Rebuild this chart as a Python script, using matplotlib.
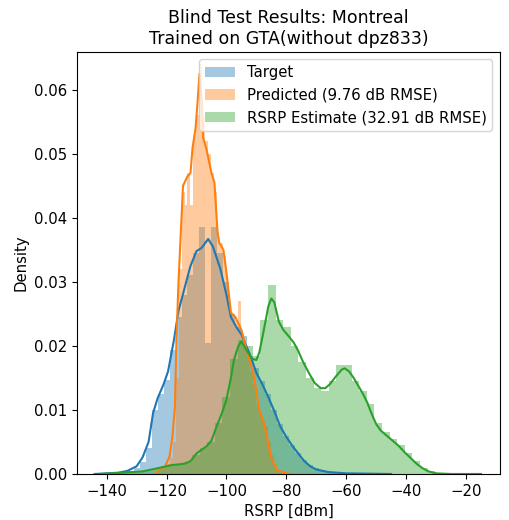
import numpy as np
import matplotlib
matplotlib.use("Agg")
import matplotlib.pyplot as plt

# histogram ranges (dBm) and bar densities
target_range = (-143, -45)
target_hist = [0.0000, 0.0001, 0.0001, 0.0002, 0.0002, 0.0004, 0.0009, 0.0018, 0.0040, 0.0100,
               0.0125, 0.0147, 0.0194, 0.0245, 0.0280, 0.0310, 0.0345, 0.0386, 0.0204, 0.0386,
               0.0345, 0.0300, 0.0250, 0.0230, 0.0215, 0.0185, 0.0165, 0.0145, 0.0125, 0.0100,
               0.0078, 0.0060, 0.0045, 0.0032, 0.0022, 0.0014, 0.0009, 0.0005, 0.0003, 0.0002,
               0.0001, 0.0001, 0.0001, 0.0000, 0.0000, 0.0000, 0.0000, 0.0001, 0.0000]

pred_range = (-123, -78)
pred_hist = [0.0005, 0.0008, 0.0010, 0.0015, 0.0025, 0.0050, 0.0150, 0.0320, 0.0440, 0.0420,
             0.0470, 0.0420, 0.0530, 0.0560, 0.0640, 0.0560, 0.0520, 0.0500, 0.0470, 0.0440,
             0.0370, 0.0360, 0.0340, 0.0300, 0.0255, 0.0250, 0.0240, 0.0270, 0.0220, 0.0200,
             0.0185, 0.0160, 0.0140, 0.0110, 0.0095, 0.0085, 0.0075, 0.0050, 0.0030, 0.0015,
             0.0008, 0.0004, 0.0002, 0.0001, 0.0001]

est_range = (-142, -15)
est_hist = [0.0001, 0.0001, 0.0002, 0.0002, 0.0003, 0.0004, 0.0006, 0.0009, 0.0012, 0.0015,
            0.0016, 0.0018, 0.0030, 0.0040, 0.0050, 0.0080, 0.0120, 0.0180, 0.0210, 0.0200,
            0.0185, 0.0240, 0.0295, 0.0240, 0.0230, 0.0200, 0.0175, 0.0150, 0.0135, 0.0130,
            0.0145, 0.0170, 0.0170, 0.0145, 0.0130, 0.0110, 0.0080, 0.0065, 0.0055, 0.0045,
            0.0032, 0.0020, 0.0010, 0.0004, 0.0001, 0.0001, 0.0000, 0.0000, 0.0000, 0.0001]

# kde curves (x in dBm, density)
target_kde_x = [-144, -140, -136, -133, -130, -128, -126, -124.5, -123, -121, -119.5, -117.5,
                -116, -114, -112, -110, -108.3, -106.1, -104.5, -102, -100, -98.5, -96.5, -95,
                -92, -90, -88, -86, -84, -82, -80, -78, -76, -74, -72, -70, -66, -60, -45]
target_kde_y = [0.0000, 0.0001, 0.0002, 0.0005, 0.0012, 0.0026, 0.0050, 0.0095, 0.0118, 0.0140,
                0.0160, 0.0210, 0.0255, 0.0290, 0.0325, 0.0348, 0.0353, 0.0367, 0.0355, 0.0320,
                0.0280, 0.0245, 0.0228, 0.0218, 0.0185, 0.0158, 0.0140, 0.0120, 0.0098, 0.0074,
                0.0058, 0.0044, 0.0032, 0.0020, 0.0012, 0.0007, 0.0003, 0.0001, 0.0000]

pred_kde_x = [-124, -122.5, -120.5, -119, -118, -117.2, -116.7, -116, -115.5, -114.5, -113, -112,
              -111.3, -110.3, -109.5, -109, -108.3, -107.8, -106.7, -105, -104, -103, -102.5,
              -101, -100, -98.5, -97, -95, -93.3, -91, -89, -87.5, -85, -83, -80, -78]
pred_kde_y = [0.0000, 0.0006, 0.0012, 0.0027, 0.0060, 0.0105, 0.0210, 0.0300, 0.0350, 0.0450,
              0.0465, 0.0470, 0.0510, 0.0540, 0.0590, 0.0625, 0.0590, 0.0525, 0.0508, 0.0470,
              0.0455, 0.0380, 0.0362, 0.0350, 0.0315, 0.0252, 0.0245, 0.0225, 0.0194, 0.0157,
              0.0100, 0.0080, 0.0025, 0.0006, 0.0001, 0.0000]

est_kde_x = [-142, -135, -128, -122, -118, -114, -112, -110, -106.7, -105, -103.3, -101.5, -100,
             -98.5, -97.5, -96, -95, -93.5, -91.5, -90, -89, -87.5, -86, -85, -84, -82.5, -81,
             -79, -77.5, -76, -74.5, -72.5, -70.5, -68.5, -67, -65.5, -63.5, -61.5, -60.5, -59,
             -57.5, -56, -54.5, -53, -51.5, -50, -48.5, -46.5, -44.5, -42.5, -40.5, -38.5,
             -36.5, -34.5, -32.5, -30, -25, -15]
est_kde_y = [0.0000, 0.0002, 0.0004, 0.0010, 0.0014, 0.0016, 0.0020, 0.0032, 0.0043, 0.0052,
             0.0074, 0.0095, 0.0116, 0.0150, 0.0178, 0.0200, 0.0207, 0.0195, 0.0180, 0.0178,
             0.0190, 0.0225, 0.0262, 0.0274, 0.0268, 0.0238, 0.0225, 0.0214, 0.0205, 0.0192,
             0.0176, 0.0158, 0.0142, 0.0134, 0.0134, 0.0140, 0.0152, 0.0163, 0.0165, 0.0160,
             0.0150, 0.0138, 0.0126, 0.0112, 0.0094, 0.0078, 0.0068, 0.0060, 0.0052, 0.0044,
             0.0034, 0.0025, 0.0016, 0.0009, 0.0004, 0.0001, 0.0000, 0.0000]

labels = ['Target', 'Predicted (9.76 dB RMSE)', 'RSRP Estimate (32.91 dB RMSE)']
colors = ['#1f77b4', '#ff7f0e', '#2ca02c']

series = [(target_range, target_hist, target_kde_x, target_kde_y),
          (pred_range, pred_hist, pred_kde_x, pred_kde_y),
          (est_range, est_hist, est_kde_x, est_kde_y)]

fig = plt.figure(figsize=(5.1, 5.2), dpi=100)
ax = fig.add_axes([0.151, 0.0885, 0.829, 0.8115])

for (rng, hist, kx, ky), lab, col in zip(series, labels, colors):
    edges = np.linspace(rng[0], rng[1], len(hist) + 1)
    ax.bar(edges[:-1], hist, width=np.diff(edges), align='edge',
           color=col, alpha=0.4, linewidth=0, label=lab)
    ax.plot(kx, ky, color=col, lw=1.5)

ax.set_xlim(-149.9, -8.7)
ax.set_ylim(0, 0.0659)
ax.set_xticks([-140, -120, -100, -80, -60, -40, -20])
ax.set_yticks([0, 0.01, 0.02, 0.03, 0.04, 0.05, 0.06])
ax.yaxis.set_major_formatter(matplotlib.ticker.FormatStrFormatter('%.2f'))
ax.tick_params(labelsize=10.7)
ax.set_xlabel('RSRP [dBm]', fontsize=10.7)
ax.set_ylabel('Density', fontsize=10.7)
ax.set_title('Blind Test Results: Montreal\nTrained on GTA(without dpz833)', fontsize=12.5)
ax.legend(loc='upper right', fontsize=10.7)

fig.savefig('out.png', dpi=100)
